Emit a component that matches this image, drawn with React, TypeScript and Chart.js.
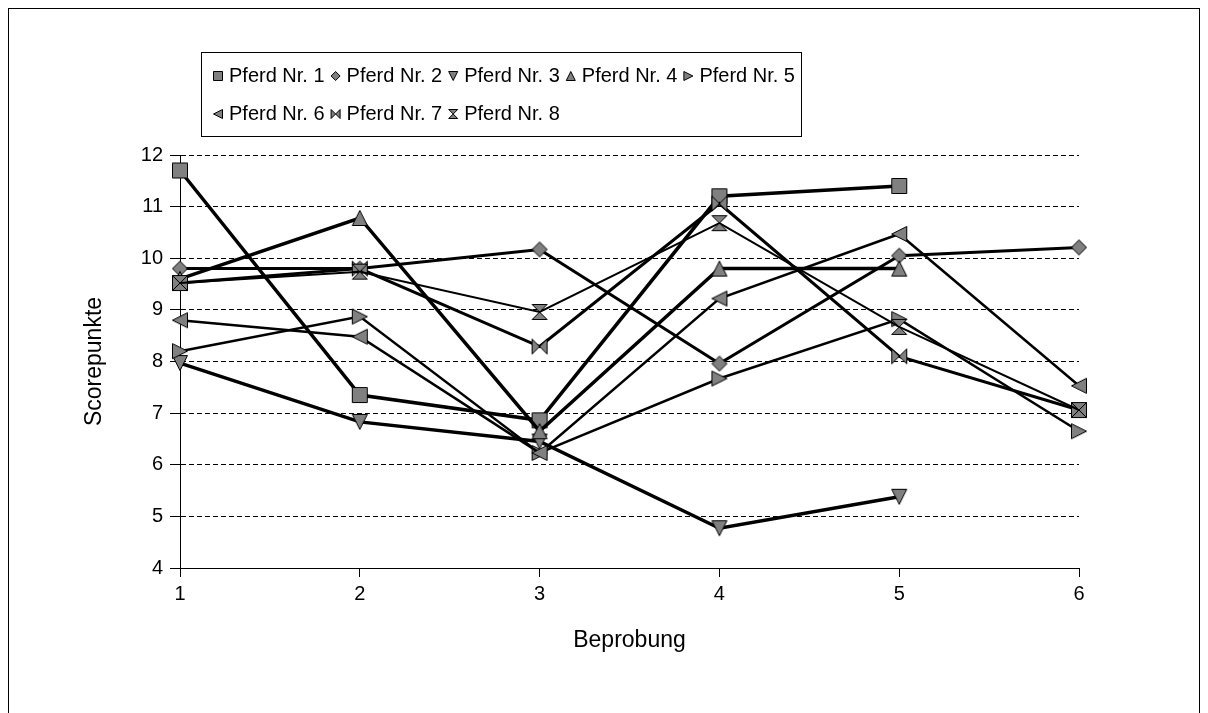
import React, { useEffect, useRef } from 'react';
import { Chart, registerables } from 'chart.js';

Chart.register(...registerables);

// ---- data ----
const beprobung = [1, 2, 3, 4, 5, 6];
const seriesLabels = [
  'Pferd Nr. 1',
  'Pferd Nr. 2',
  'Pferd Nr. 3',
  'Pferd Nr. 4',
  'Pferd Nr. 5',
  'Pferd Nr. 6',
  'Pferd Nr. 7',
  'Pferd Nr. 8',
];
const pferd1 = [11.7, 7.35, 6.86, 11.2, 11.4, null];
const pferd2 = [9.8, 9.8, 10.17, 7.96, 10.05, 10.21];
const pferd3 = [7.97, 6.83, 6.45, 4.77, 5.38, null];
const pferd4 = [9.6, 10.78, 6.65, 9.8, 9.8, null];
const pferd5 = [8.2, 8.87, 6.23, 7.67, 8.82, 6.65];
const pferd6 = [8.8, 8.48, 6.23, 9.22, 10.47, 7.53];
const pferd7 = [9.52, 9.8, 8.29, 11.06, 8.1, 7.06];
const pferd8 = [9.52, 9.74, 8.96, 10.68, 8.67, 7.06];
const allSeries = [pferd1, pferd2, pferd3, pferd4, pferd5, pferd6, pferd7, pferd8];

const yTickMin = 4;
const yTickMax = 12;

// ---- styles ----
const markerShapes = ['square', 'diamond', 'triDown', 'triUp', 'triRight', 'triLeft', 'bowtie', 'hourglass'];
const lineWidths = [3.5, 3, 3.5, 3.5, 2.5, 2.5, 3, 2];
const FONT = "'Liberation Sans', Arial, sans-serif";
const CW = 1192;
const CH = 720;

function drawShape(ctx: CanvasRenderingContext2D, shape: string, cx: number, cy: number, s: number) {
  ctx.beginPath();
  switch (shape) {
    case 'square':
      ctx.rect(cx - s, cy - s, 2 * s, 2 * s);
      break;
    case 'diamond':
      ctx.moveTo(cx, cy - s);
      ctx.lineTo(cx + s, cy);
      ctx.lineTo(cx, cy + s);
      ctx.lineTo(cx - s, cy);
      ctx.closePath();
      break;
    case 'triUp':
      ctx.moveTo(cx, cy - s);
      ctx.lineTo(cx + s, cy + s);
      ctx.lineTo(cx - s, cy + s);
      ctx.closePath();
      break;
    case 'triDown':
      ctx.moveTo(cx - s, cy - s);
      ctx.lineTo(cx + s, cy - s);
      ctx.lineTo(cx, cy + s);
      ctx.closePath();
      break;
    case 'triLeft':
      ctx.moveTo(cx - s, cy);
      ctx.lineTo(cx + s, cy - s);
      ctx.lineTo(cx + s, cy + s);
      ctx.closePath();
      break;
    case 'triRight':
      ctx.moveTo(cx + s, cy);
      ctx.lineTo(cx - s, cy - s);
      ctx.lineTo(cx - s, cy + s);
      ctx.closePath();
      break;
    case 'bowtie':
      ctx.moveTo(cx - s, cy - s);
      ctx.lineTo(cx, cy);
      ctx.lineTo(cx - s, cy + s);
      ctx.closePath();
      ctx.moveTo(cx + s, cy - s);
      ctx.lineTo(cx, cy);
      ctx.lineTo(cx + s, cy + s);
      ctx.closePath();
      break;
    case 'hourglass':
      ctx.moveTo(cx - s, cy - s);
      ctx.lineTo(cx + s, cy - s);
      ctx.lineTo(cx, cy);
      ctx.closePath();
      ctx.moveTo(cx - s, cy + s);
      ctx.lineTo(cx + s, cy + s);
      ctx.lineTo(cx, cy);
      ctx.closePath();
      break;
  }
  ctx.fillStyle = '#808080';
  ctx.fill();
  ctx.strokeStyle = '#000';
  ctx.lineWidth = 1;
  ctx.stroke();
}

function makeMarker(shape: string, s: number): HTMLCanvasElement {
  const size = Math.ceil(2 * s + 3);
  const c = document.createElement('canvas');
  c.width = size;
  c.height = size;
  const ctx = c.getContext('2d')!;
  drawShape(ctx, shape, size / 2, size / 2, s);
  return c;
}

const framePlugin = {
  id: 'frame',
  beforeDraw(chart: any) {
    const ctx = chart.ctx as CanvasRenderingContext2D;
    ctx.save();
    ctx.fillStyle = '#fff';
    ctx.fillRect(0, 0, chart.width, chart.height);
    ctx.strokeStyle = '#000';
    ctx.lineWidth = 1;
    ctx.strokeRect(0.5, 0.5, chart.width - 1, chart.height + 10);
    ctx.restore();
  },
};

const legendPlugin = {
  id: 'boxLegend',
  afterDraw(chart: any) {
    const ctx = chart.ctx as CanvasRenderingContext2D;
    const bx = 193;
    const by = 44;
    const bw = 600;
    const bh = 84;
    ctx.save();
    ctx.fillStyle = '#fff';
    ctx.fillRect(bx, by, bw, bh);
    ctx.strokeStyle = '#000';
    ctx.lineWidth = 1;
    ctx.strokeRect(bx + 0.5, by + 0.5, bw, bh);
    ctx.font = `20px ${FONT}`;
    ctx.textBaseline = 'middle';
    ctx.textAlign = 'left';
    const rows = [[0, 1, 2, 3, 4], [5, 6, 7]];
    const rowY = [by + 24, by + 62];
    rows.forEach((row, r) => {
      let x = bx + 17;
      row.forEach((i) => {
        drawShape(ctx, markerShapes[i], x, rowY[r], 4.5);
        ctx.fillStyle = '#000';
        const tx = x + 11;
        ctx.fillText(chart.data.datasets[i].label, tx, rowY[r]);
        x = tx + ctx.measureText(chart.data.datasets[i].label).width + 11;
      });
    });
    ctx.restore();
  },
};

export default function App() {
  const ref = useRef<HTMLCanvasElement>(null);

  useEffect(() => {
    document.documentElement.style.overflow = 'hidden';
    document.body.style.overflow = 'hidden';
    const canvas = ref.current!;
    const font = { family: FONT, size: 20 };
    const titleFont = { family: FONT, size: 23 };

    const datasets = allSeries.map((vals, i) => ({
      label: seriesLabels[i],
      data: vals
        .map((v, j) => (v === null ? null : { x: beprobung[j], y: v }))
        .filter((p) => p !== null) as { x: number; y: number }[],
      borderColor: '#000',
      backgroundColor: '#808080',
      borderWidth: lineWidths[i],
      pointStyle: makeMarker(markerShapes[i], 7.5),
      pointRadius: 8,
      tension: 0,
      fill: false,
      clip: false as any,
      order: -i,
    }));

    const chart = new Chart(canvas, {
      type: 'line',
      data: { datasets },
      options: {
        responsive: false,
        animation: false,
        events: [],
        layout: { padding: { left: 50, top: 147, right: 121, bottom: 60 } },
        plugins: {
          legend: { display: false },
          tooltip: { enabled: false },
        },
        scales: {
          x: {
            type: 'linear',
            min: beprobung[0],
            max: beprobung[beprobung.length - 1],
            ticks: { stepSize: 1, font, color: '#000', padding: 5 },
            grid: { drawOnChartArea: false, color: '#000', tickLength: 9 },
            border: { color: '#000', width: 1 },
            title: {
              display: true,
              text: 'Beprobung',
              font: titleFont,
              color: '#000',
              padding: { top: 0, bottom: 14 },
            },
            afterFit: (s: any) => {
              s.height = 100;
            },
          },
          y: {
            type: 'linear',
            min: yTickMin,
            max: yTickMax,
            ticks: { stepSize: 1, font, color: '#000', padding: 7 },
            grid: { color: '#000', lineWidth: 1, tickLength: 10 },
            border: { color: '#000', width: 1, dash: [5, 3] },
            title: {
              display: true,
              text: 'Scorepunkte',
              font: titleFont,
              color: '#000',
              padding: { top: 23, bottom: 0 },
            },
            afterFit: (s: any) => {
              s.width = 122;
            },
          },
        },
      },
      plugins: [framePlugin, legendPlugin],
    });
    return () => chart.destroy();
  }, []);

  return (
    <div style={{ position: 'fixed', left: 8, top: 8, width: CW, height: CH }}>
      <canvas ref={ref} width={CW} height={CH} style={{ display: 'block' }} />
    </div>
  );
}
